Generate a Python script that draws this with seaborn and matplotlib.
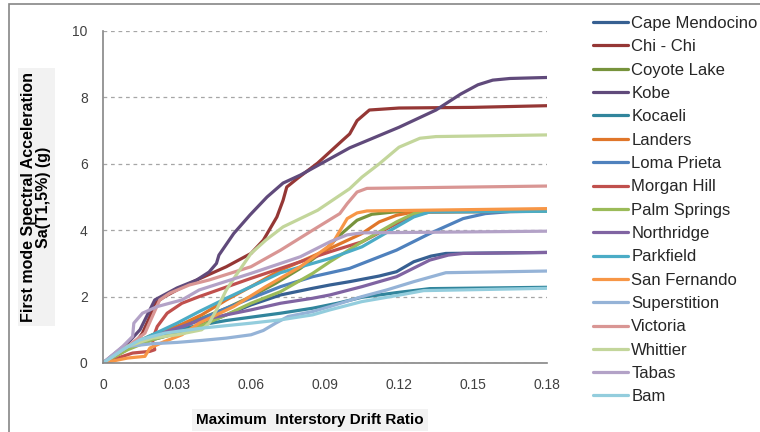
import numpy as np
import pandas as pd
import matplotlib
matplotlib.use("Agg")
import matplotlib.pyplot as plt
from matplotlib.patches import Rectangle
import seaborn as sns

# Record names in legend order
records = ["Cape Mendocino", "Chi - Chi", "Coyote Lake", "Kobe", "Kocaeli", "Landers",
           "Loma Prieta", "Morgan Hill", "Palm Springs", "Northridge", "Parkfield",
           "San Fernando", "Superstition", "Victoria", "Whittier", "Tabas", "Bam"]

# IDA curves: maximum interstory drift ratio vs Sa(T1,5%) (g)
drift_cape_mendocino = [0, 0.01, 0.02, 0.03, 0.04, 0.05, 0.06, 0.072, 0.085, 0.092, 0.1, 0.112, 0.119, 0.126, 0.133, 0.139, 0.18]
sa_cape_mendocino = [0, 0.45, 0.7, 0.9, 1.15, 1.45, 1.75, 2.05, 2.25, 2.35, 2.45, 2.62, 2.75, 3.05, 3.22, 3.3, 3.33]

drift_chi_chi = [0, 0.012, 0.016, 0.019, 0.021, 0.025, 0.03, 0.038, 0.05, 0.06, 0.065, 0.0705, 0.073, 0.0745, 0.079, 0.087, 0.097, 0.1, 0.103, 0.108, 0.12, 0.15, 0.18]
sa_chi_chi = [0, 0.5, 0.9, 1.4, 1.8, 2.0, 2.2, 2.5, 2.9, 3.3, 3.7, 4.4, 4.9, 5.3, 5.57, 6.02, 6.7, 6.9, 7.3, 7.62, 7.68, 7.7, 7.75]

drift_coyote_lake = [0, 0.01, 0.02, 0.03, 0.04, 0.05, 0.06, 0.07, 0.08, 0.09, 0.096, 0.103, 0.109, 0.118, 0.18]
sa_coyote_lake = [0, 0.5, 0.85, 1.1, 1.35, 1.65, 2.0, 2.4, 2.85, 3.4, 3.85, 4.3, 4.48, 4.55, 4.57]

drift_kobe = [0, 0.01, 0.015, 0.019, 0.021, 0.03, 0.038, 0.043, 0.046, 0.047, 0.053, 0.0596, 0.0665, 0.073, 0.08, 0.1, 0.12, 0.135, 0.145, 0.152, 0.158, 0.165, 0.18]
sa_kobe = [0, 0.6, 1.0, 1.6, 1.9, 2.26, 2.5, 2.74, 3.0, 3.25, 3.9, 4.46, 5.0, 5.42, 5.66, 6.48, 7.1, 7.62, 8.1, 8.38, 8.52, 8.57, 8.6]

drift_kocaeli = [0, 0.01, 0.02, 0.03, 0.04, 0.05, 0.06, 0.072, 0.085, 0.095, 0.105, 0.119, 0.1325, 0.18]
sa_kocaeli = [0, 0.5, 0.8, 1.0, 1.15, 1.28, 1.38, 1.5, 1.65, 1.8, 1.98, 2.12, 2.24, 2.28]

drift_landers = [0, 0.01, 0.02, 0.03, 0.04, 0.05, 0.06, 0.072, 0.08, 0.092, 0.105, 0.112, 0.119, 0.126, 0.18]
sa_landers = [0, 0.45, 0.8, 1.1, 1.45, 1.9, 2.3, 2.8, 3.05, 3.45, 3.9, 4.25, 4.45, 4.55, 4.6]

drift_loma_prieta = [0, 0.01, 0.02, 0.03, 0.039, 0.05, 0.06, 0.072, 0.085, 0.1, 0.119, 0.1325, 0.146, 0.155, 0.165, 0.18]
sa_loma_prieta = [0, 0.45, 0.75, 1.0, 1.3, 1.65, 1.95, 2.3, 2.6, 2.85, 3.4, 3.9, 4.35, 4.5, 4.56, 4.57]

drift_morgan_hill = [0, 0.012, 0.019, 0.021, 0.02, 0.022, 0.026, 0.032, 0.039, 0.06, 0.08, 0.092, 0.105, 0.119, 0.126, 0.1325, 0.18]
sa_morgan_hill = [0, 0.3, 0.35, 0.4, 0.7, 1.1, 1.5, 1.8, 2.0, 2.55, 3.05, 3.35, 3.65, 4.2, 4.45, 4.55, 4.57]

drift_palm_springs = [0, 0.01, 0.02, 0.03, 0.039, 0.05, 0.06, 0.072, 0.085, 0.092, 0.105, 0.119, 0.126, 0.133, 0.18]
sa_palm_springs = [0, 0.4, 0.7, 0.9, 1.1, 1.45, 1.8, 2.15, 2.7, 3.05, 3.65, 4.25, 4.5, 4.56, 4.57]

drift_northridge = [0, 0.01, 0.02, 0.03, 0.04, 0.05, 0.06, 0.072, 0.085, 0.092, 0.105, 0.119, 0.1325, 0.14, 0.146, 0.18]
sa_northridge = [0, 0.5, 0.8, 1.05, 1.3, 1.45, 1.6, 1.8, 1.95, 2.05, 2.3, 2.6, 3.1, 3.25, 3.3, 3.33]

drift_parkfield = [0, 0.01, 0.02, 0.03, 0.039, 0.05, 0.06, 0.072, 0.085, 0.092, 0.105, 0.119, 0.126, 0.1325, 0.18]
sa_parkfield = [0, 0.5, 0.85, 1.2, 1.55, 1.95, 2.3, 2.72, 3.0, 3.15, 3.5, 4.1, 4.4, 4.55, 4.57]

drift_san_fernando = [0, 0.01, 0.017, 0.019, 0.025, 0.032, 0.039, 0.053, 0.066, 0.08, 0.093, 0.097, 0.099, 0.103, 0.107, 0.18]
sa_san_fernando = [0, 0.15, 0.2, 0.45, 0.65, 0.85, 1.2, 1.7, 2.3, 2.9, 3.6, 4.1, 4.35, 4.52, 4.58, 4.65]

drift_superstition = [0, 0.005, 0.01, 0.02, 0.03, 0.04, 0.05, 0.06, 0.065, 0.07, 0.075, 0.085, 0.092, 0.105, 0.115, 0.126, 0.139, 0.18]
sa_superstition = [0, 0.3, 0.5, 0.58, 0.62, 0.68, 0.75, 0.85, 0.98, 1.2, 1.4, 1.55, 1.7, 2.0, 2.2, 2.45, 2.72, 2.77]

drift_victoria = [0, 0.01, 0.017, 0.02, 0.023, 0.027, 0.035, 0.043, 0.06, 0.072, 0.085, 0.096, 0.099, 0.103, 0.107, 0.18]
sa_victoria = [0, 0.5, 0.9, 1.4, 1.9, 2.1, 2.35, 2.5, 2.9, 3.4, 4.0, 4.5, 4.8, 5.15, 5.26, 5.33]

drift_whittier = [0, 0.01, 0.02, 0.03, 0.04, 0.043, 0.046, 0.05, 0.054, 0.06, 0.066, 0.073, 0.087, 0.1, 0.105, 0.112, 0.12, 0.1285, 0.135, 0.18]
sa_whittier = [0, 0.5, 0.75, 0.85, 1.0, 1.2, 1.6, 2.2, 2.65, 3.3, 3.7, 4.1, 4.6, 5.25, 5.6, 6.0, 6.5, 6.77, 6.82, 6.87]

drift_tabas = [0, 0.008, 0.012, 0.0125, 0.016, 0.022, 0.032, 0.039, 0.06, 0.08, 0.092, 0.099, 0.105, 0.18]
sa_tabas = [0, 0.5, 0.8, 1.2, 1.5, 1.7, 1.9, 2.2, 2.7, 3.2, 3.65, 3.86, 3.92, 3.97]

drift_bam = [0, 0.008, 0.015, 0.025, 0.04, 0.06, 0.072, 0.085, 0.092, 0.105, 0.119, 0.13, 0.18]
sa_bam = [0, 0.4, 0.7, 0.9, 1.05, 1.2, 1.3, 1.45, 1.6, 1.85, 2.03, 2.18, 2.25]

record_colors = ["#376092", "#953735", "#77933C", "#604A7B", "#31859C", "#E0762A",
                 "#4F81BD", "#C0504D", "#9BBB59", "#8064A2", "#4BACC6", "#F79646",
                 "#95B3D7", "#D99694", "#C3D69B", "#B3A2C7", "#93CDDD"]

curves = [
    (drift_cape_mendocino, sa_cape_mendocino), (drift_chi_chi, sa_chi_chi),
    (drift_coyote_lake, sa_coyote_lake), (drift_kobe, sa_kobe),
    (drift_kocaeli, sa_kocaeli), (drift_landers, sa_landers),
    (drift_loma_prieta, sa_loma_prieta), (drift_morgan_hill, sa_morgan_hill),
    (drift_palm_springs, sa_palm_springs), (drift_northridge, sa_northridge),
    (drift_parkfield, sa_parkfield), (drift_san_fernando, sa_san_fernando),
    (drift_superstition, sa_superstition), (drift_victoria, sa_victoria),
    (drift_whittier, sa_whittier), (drift_tabas, sa_tabas), (drift_bam, sa_bam),
]

frames = []
for name, (dx, sa) in zip(records, curves):
    frames.append(pd.DataFrame({"drift": dx, "sa": sa, "record": name}))
df = pd.concat(frames, ignore_index=True)

sns.set_theme(style="white")
plt.rcParams["font.family"] = ["Liberation Sans", "DejaVu Sans"]

fig = plt.figure(figsize=(7.6, 4.32), dpi=100)
ax = fig.add_axes([103 / 760, 1 - 363 / 432, 444 / 760, 332 / 432])

sns.lineplot(data=df, x="drift", y="sa", hue="record", hue_order=records,
             palette=record_colors, sort=False, estimator=None, units="record",
             linewidth=2.3, ax=ax, legend=True)
for line in ax.get_lines():
    line.set_solid_joinstyle("round")
    line.set_solid_capstyle("round")

ax.set_xlim(0, 0.18)
ax.set_ylim(0, 10)
ax.set_xticks([0, 0.03, 0.06, 0.09, 0.12, 0.15, 0.18])
ax.set_xticklabels(["0", "0.03", "0.06", "0.09", "0.12", "0.15", "0.18"])
ax.set_yticks([0, 2, 4, 6, 8, 10])
ax.tick_params(axis="both", which="major", direction="out", length=4, width=1,
               color="#868686", labelsize=10, labelcolor="#404040", pad=7)
ax.yaxis.grid(True, linestyle=(0, (3, 3)), color="#A6A6A6", linewidth=0.9)
ax.xaxis.grid(False)
ax.set_axisbelow(True)
for side in ("top", "right"):
    ax.spines[side].set_visible(False)
for side in ("left", "bottom"):
    ax.spines[side].set_color("#868686")
    ax.spines[side].set_linewidth(1.2)

ax.set_ylabel("First mode Spectral Acceleration\nSa(T1,5%) (g)", fontsize=11.5,
              fontweight="bold", color="black", linespacing=1.0,
              bbox=dict(facecolor="#F2F2F2", edgecolor="none", pad=2.5))
ax.yaxis.set_label_coords(-0.117, 0.5)
ax.set_xlabel("Maximum  Interstory Drift Ratio", fontsize=11, fontweight="bold",
              color="black", bbox=dict(facecolor="#F2F2F2", edgecolor="none", pad=3))
ax.xaxis.set_label_coords(0.466, -0.15)

handles, labels = ax.get_legend_handles_labels()
leg = ax.legend(handles, labels, loc="upper left", bbox_to_anchor=(593 / 760, 1 - 16 / 432),
                bbox_transform=fig.transFigure, frameon=False, fontsize=12,
                handlelength=2.1, handletextpad=0.2, labelspacing=0.5, borderaxespad=0,
                borderpad=0)
for lh in leg.get_lines():
    lh.set_linewidth(2.3)

# Chart frame
fig.patches.append(Rectangle((9 / 760, -0.05), 1.0, 1 - 4 / 432 + 0.05,
                             transform=fig.transFigure, fill=False,
                             edgecolor="#868686", linewidth=1.2))

fig.savefig("out.png", dpi=100)
